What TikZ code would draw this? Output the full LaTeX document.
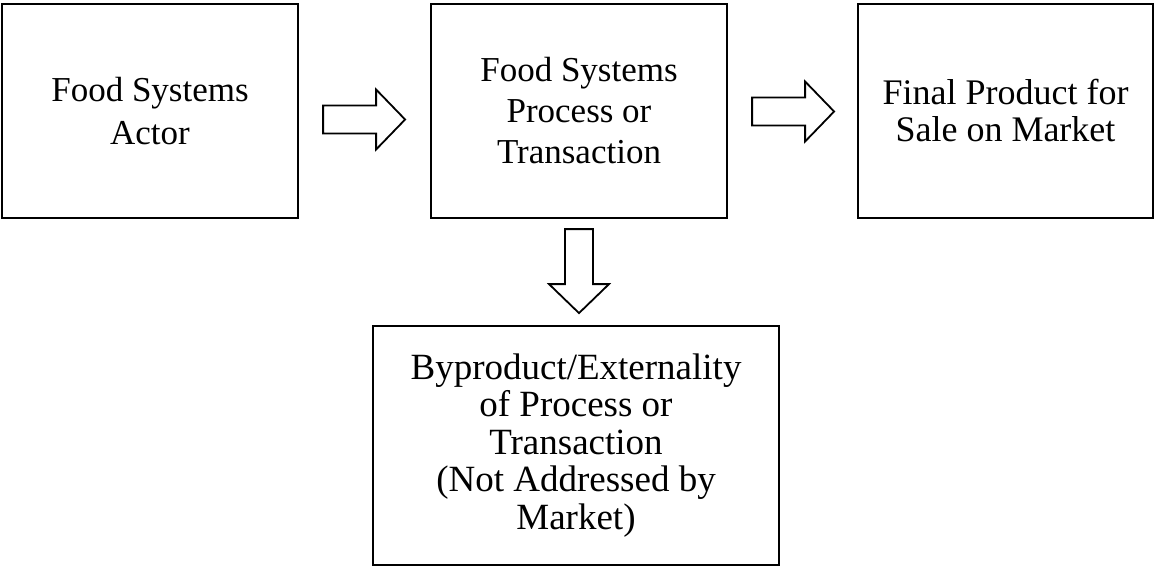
\documentclass[tikz,border=0pt]{standalone}
\usepackage{fontspec}
\setmainfont{Liberation Serif}
\usetikzlibrary{calc}

\tikzset{
  box/.style={draw, line width=2.2pt, align=center, inner sep=0pt},
  arrowline/.style={draw, line width=1.8pt, fill=white, line join=miter},
}

% hollow block arrow: start point, direction angle, length
\newcommand\fatarrow[3]{%
  \draw[arrowline, shift={(#1)}, rotate=#2]
    (0,-14) -- ({#3-29},-14) -- ({#3-29},-30) -- (#3,0)
    -- ({#3-29},30) -- ({#3-29},14) -- (0,14) -- cycle;}

\begin{document}
\begin{tikzpicture}[x=1pt, y=-1pt]
\useasboundingbox (0,0) rectangle (1155,567);

\node[box, minimum width=296pt, minimum height=214pt,
      font=\fontsize{35}{43}\selectfont] (actor) at (150,111)
  {Food Systems\\Actor};
\node[box, minimum width=296pt, minimum height=214pt,
      font=\fontsize{35}{41}\selectfont] (process) at (579,111)
  {Food Systems\\Process or\\Transaction};
\node[box, minimum width=295pt, minimum height=214pt,
      font=\fontsize{36}{37}\selectfont] (product) at (1005.5,111)
  {Final Product for\\Sale on Market};
\node[box, minimum width=406pt, minimum height=239pt,
      font=\fontsize{37}{37.5}\selectfont] (byproduct) at (576,445.5)
  {Byproduct/Externality\\of Process or\\Transaction\\(Not Addressed by\\Market)};

\coordinate (a1) at ($(actor.east)+(24,8.5)$);
\coordinate (a2) at ($(process.east)+(24,0.5)$);
\coordinate (a3) at ($(process.south)+(0,10)$);

\fatarrow{a1}{0}{82}
\fatarrow{a2}{0}{82}
\fatarrow{a3}{-90}{84}
\end{tikzpicture}
\end{document}
